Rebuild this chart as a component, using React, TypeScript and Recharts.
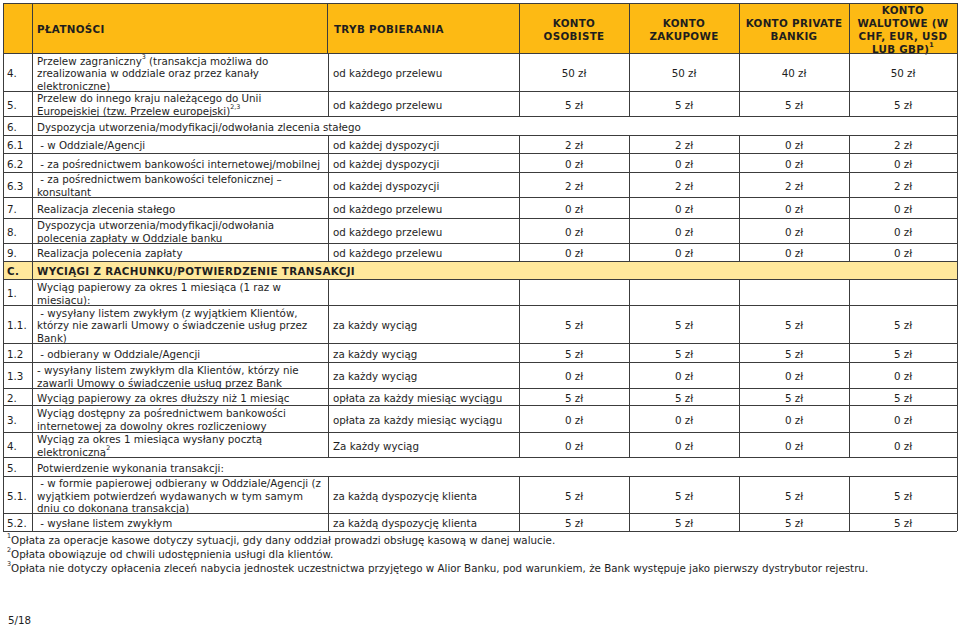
import React from 'react';
import { Surface, Layer, Rectangle } from 'recharts';

// ---------- DATA ----------
const HEADER_PAYMENTS = 'PŁATNOŚCI';
const HEADER_MODE = 'TRYB POBIERANIA';
const ACCOUNT_HEADERS: string[][] = [
  ['KONTO', 'OSOBISTE'],
  ['KONTO', 'ZAKUPOWE'],
  ['KONTO PRIVATE', 'BANKIG'],
  ['KONTO', 'WALUTOWE (W', 'CHF, EUR, USD', 'LUB GBP)^1'],
];

const ROW_NUMBERS = ['4.', '5.', '6.', '6.1', '6.2', '6.3', '7.', '8.', '9.', 'C.', '1.', '1.1.', '1.2', '1.3', '2.', '3.', '4.', '5.', '5.1.', '5.2.'];
// row: full row with all cells; span: label spans all columns; section: highlighted section title
const ROW_KINDS = ['row', 'row', 'span', 'row', 'row', 'row', 'row', 'row', 'row', 'section', 'row', 'row', 'row', 'row', 'row', 'row', 'row', 'span', 'row', 'row'];
const ROW_LABELS: string[][] = [
  ['Przelew zagraniczny^3 (transakcja możliwa do', 'zrealizowania w oddziale oraz przez kanały', 'elektroniczne)'],
  ['Przelew do innego kraju należącego do Unii', 'Europejskiej (tzw. Przelew europejski)^2,3'],
  ['Dyspozycja utworzenia/modyfikacji/odwołania zlecenia stałego'],
  [' - w Oddziale/Agencji'],
  [' - za pośrednictwem bankowości internetowej/mobilnej'],
  [' - za pośrednictwem bankowości telefonicznej –', 'konsultant'],
  ['Realizacja zlecenia stałego'],
  ['Dyspozycja utworzenia/modyfikacji/odwołania', 'polecenia zapłaty w Oddziale banku'],
  ['Realizacja polecenia zapłaty'],
  ['WYCIĄGI Z RACHUNKU/POTWIERDZENIE TRANSAKCJI'],
  ['Wyciąg papierowy za okres 1 miesiąca (1 raz w', 'miesiącu):'],
  [' - wysyłany listem zwykłym (z wyjątkiem Klientów,', 'którzy nie zawarli Umowy o świadczenie usług przez', 'Bank)'],
  [' - odbierany w Oddziale/Agencji'],
  ['- wysyłany listem zwykłym dla Klientów, którzy nie', 'zawarli Umowy o świadczenie usług przez Bank'],
  ['Wyciąg papierowy za okres dłuższy niż 1 miesiąc'],
  ['Wyciąg dostępny za pośrednictwem bankowości', 'internetowej za dowolny okres rozliczeniowy'],
  ['Wyciąg za okres 1 miesiąca wysłany pocztą', 'elektroniczną^2'],
  ['Potwierdzenie wykonania transakcji:'],
  [' - w formie papierowej odbierany w Oddziale/Agencji (z', 'wyjątkiem potwierdzeń wydawanych w tym samym', 'dniu co dokonana transakcja)'],
  [' - wysłane listem zwykłym'],
];
const ROW_MODES = [
  'od każdego przelewu', 'od każdego przelewu', '', 'od każdej dyspozycji', 'od każdej dyspozycji',
  'od każdej dyspozycji', 'od każdego przelewu', 'od każdego przelewu', 'od każdego przelewu', '',
  '', 'za każdy wyciąg', 'za każdy wyciąg', 'za każdy wyciąg', 'opłata za każdy miesiąc wyciągu',
  'opłata za każdy miesiąc wyciągu', 'Za każdy wyciąg', '', 'za każdą dyspozycję klienta', 'za każdą dyspozycję klienta',
];
const KONTO_OSOBISTE = [50, 5, null, 2, 0, 2, 0, 0, 0, null, null, 5, 5, 0, 5, 0, 0, null, 5, 5];
const KONTO_ZAKUPOWE = [50, 5, null, 2, 0, 2, 0, 0, 0, null, null, 5, 5, 0, 5, 0, 0, null, 5, 5];
const KONTO_PRIVATE = [40, 5, null, 0, 0, 2, 0, 0, 0, null, null, 5, 5, 0, 5, 0, 0, null, 5, 5];
const KONTO_WALUTOWE = [50, 5, null, 2, 0, 2, 0, 0, 0, null, null, 5, 5, 0, 5, 0, 0, null, 5, 5];
const CURRENCY = 'zł';

const FOOTNOTES = [
  '^1Opłata za operacje kasowe dotyczy sytuacji, gdy dany oddział prowadzi obsługę kasową w danej walucie.',
  '^2Opłata obowiązuje od chwili udostępnienia usługi dla klientów.',
  '^3Opłata nie dotyczy opłacenia zleceń nabycia jednostek uczestnictwa przyjętego w Alior Banku, pod warunkiem, że Bank występuje jako pierwszy dystrybutor rejestru.',
];
const PAGE_LABEL = '5/18';

// ---------- LAYOUT ----------
const W = 960;
const H = 627;
const COL_X = [3, 32, 328, 519, 629, 739, 849, 957];
const HEADER_TOP = 3;
const ROW_Y = [53, 91, 116, 135, 153, 172, 197, 218, 243, 261, 279, 305, 343, 362, 388, 405, 432, 457, 476, 513, 531];
const FOOT_Y = [539, 553, 567];
const PAGE_Y = 619;
const LH = 12.6;
const FS = 10.3;
const FONT = '"DejaVu Sans", Verdana, sans-serif';
const TEXT_COLOR = '#1e1e1e';
const LINE_COLOR = '#3c3c3c';
const HEADER_FILL = '#FDBA14';
const SECTION_FILL = '#FFE89C';
const TY = 1.2; // visual centering offset

const Rich = ({ x, y, text, anchor = 'start', bold = false, size = FS }: any) => {
  const parts: string[] = text.split(/\^([\d,]+)/);
  const nodes: any[] = [];
  let raised = false;
  parts.forEach((p, i) => {
    if (!p) return;
    if (i % 2 === 1) {
      nodes.push(<tspan key={i} fontSize={size * 0.62} dy={-4}>{p}</tspan>);
      raised = true;
    } else {
      nodes.push(<tspan key={i} dy={raised ? 4 : undefined}>{p}</tspan>);
      raised = false;
    }
  });
  return (
    <text x={x} y={y} textAnchor={anchor} dominantBaseline="central" fontFamily={FONT}
      fontSize={size} fontWeight={bold ? 700 : 400} letterSpacing={bold ? 0.35 : 0}
      fill={TEXT_COLOR} style={{ whiteSpace: 'pre' }}>
      {nodes}
    </text>
  );
};

const Lines = ({ x, top, bottom, lines, anchor = 'start', bold = false, lh = LH }: any) => {
  const c = (top + bottom) / 2 + TY;
  const first = c - ((lines.length - 1) * lh) / 2;
  return (
    <Layer>
      {lines.map((t: string, i: number) => (
        <Rich key={i} x={x} y={first + i * lh} text={t} anchor={anchor} bold={bold} />
      ))}
    </Layer>
  );
};

const HLine = ({ x1, x2, y }: any) => <line x1={x1} x2={x2} y1={y} y2={y} stroke={LINE_COLOR} strokeWidth={1} shapeRendering="crispEdges" />;
const VLine = ({ x, y1, y2 }: any) => <line x1={x} x2={x} y1={y1} y2={y2} stroke={LINE_COLOR} strokeWidth={1} shapeRendering="crispEdges" />;

export default function App() {
  const accounts = [KONTO_OSOBISTE, KONTO_ZAKUPOWE, KONTO_PRIVATE, KONTO_WALUTOWE];
  const left = COL_X[0];
  const right = COL_X[COL_X.length - 1];
  const tableBottom = ROW_Y[ROW_Y.length - 1];
  return (
    <div style={{ position: 'absolute', left: 0, top: 0, width: W, height: H, background: '#fff' }}>
      <Surface width={W} height={H}>
        {/* fills */}
        <Rectangle x={left} y={HEADER_TOP} width={right - left} height={ROW_Y[0] - HEADER_TOP} fill={HEADER_FILL} />
        {ROW_KINDS.map((k, i) => k === 'section' ? (
          <Rectangle key={'s' + i} x={left} y={ROW_Y[i]} width={right - left} height={ROW_Y[i + 1] - ROW_Y[i]} fill={SECTION_FILL} />
        ) : null)}

        {/* header text */}
        <Lines x={COL_X[1] + 5} top={HEADER_TOP} bottom={ROW_Y[0]} lines={[HEADER_PAYMENTS]} bold />
        <Lines x={COL_X[2] + 6} top={HEADER_TOP} bottom={ROW_Y[0]} lines={[HEADER_MODE]} bold />
        {ACCOUNT_HEADERS.map((h, j) => (
          <Lines key={'h' + j} x={(COL_X[3 + j] + COL_X[4 + j]) / 2} top={HEADER_TOP} bottom={ROW_Y[0]} lines={h} anchor="middle" bold lh={13} />
        ))}

        {/* body text */}
        {ROW_NUMBERS.map((n, i) => {
          const top = ROW_Y[i];
          const bottom = ROW_Y[i + 1];
          const kind = ROW_KINDS[i];
          return (
            <Layer key={'r' + i}>
              <Lines x={left + 4} top={top} bottom={bottom} lines={[n]} bold={kind === 'section'} />
              <Lines x={COL_X[1] + 5} top={top} bottom={bottom} lines={ROW_LABELS[i]} bold={kind === 'section'} />
              {kind === 'row' && ROW_MODES[i] ? (
                <Lines x={COL_X[2] + 5} top={top} bottom={bottom} lines={[ROW_MODES[i]]} />
              ) : null}
              {kind === 'row' ? accounts.map((a, j) => a[i] === null ? null : (
                <Lines key={j} x={(COL_X[3 + j] + COL_X[4 + j]) / 2} top={top} bottom={bottom} lines={[`${a[i]} ${CURRENCY}`]} anchor="middle" />
              )) : null}
            </Layer>
          );
        })}

        {/* grid */}
        <HLine x1={left} x2={right} y={HEADER_TOP} />
        {ROW_Y.map((y, i) => <HLine key={'hl' + i} x1={left} x2={right} y={y} />)}
        <VLine x={left} y1={HEADER_TOP} y2={tableBottom} />
        <VLine x={right} y1={HEADER_TOP} y2={tableBottom} />
        <VLine x={COL_X[1]} y1={HEADER_TOP} y2={tableBottom} />
        {COL_X.slice(2, 7).map((x, j) => <VLine key={'hv' + j} x={j === 0 ? x - 1 : x} y1={HEADER_TOP} y2={ROW_Y[0]} />)}
        {ROW_KINDS.map((k, i) => k === 'row' ? (
          <Layer key={'v' + i}>
            {COL_X.slice(2, 7).map((x, j) => <VLine key={j} x={x} y1={ROW_Y[i]} y2={ROW_Y[i + 1]} />)}
          </Layer>
        ) : null)}

        {/* footnotes */}
        {FOOTNOTES.map((f, i) => <Rich key={'f' + i} x={left + 4} y={FOOT_Y[i] + TY} text={f} />)}
        <Rich x={left + 5} y={PAGE_Y + TY} text={PAGE_LABEL} />
      </Surface>
    </div>
  );
}
